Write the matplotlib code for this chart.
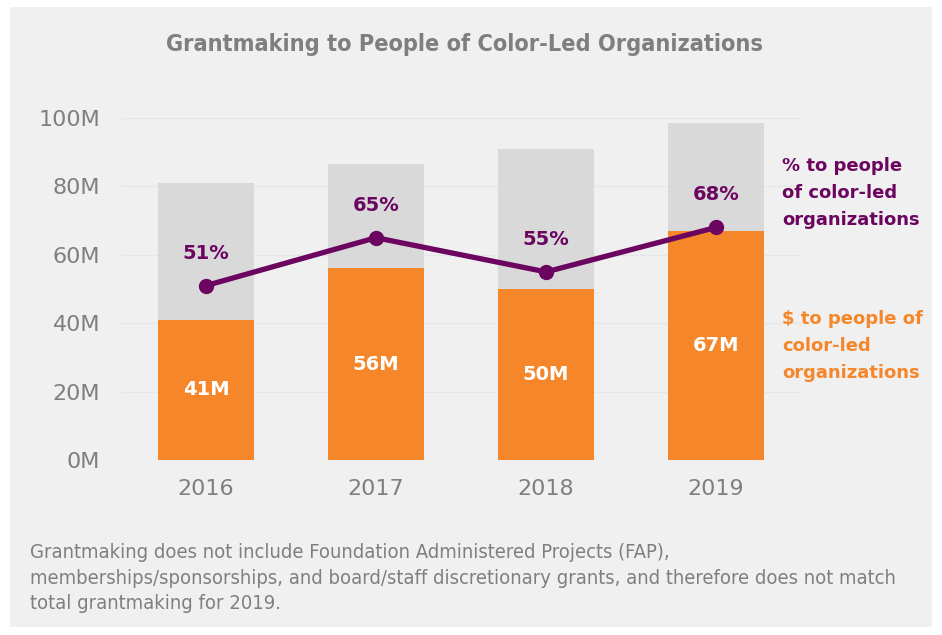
import matplotlib.pyplot as plt
from matplotlib.patches import Rectangle

years = ['2016', '2017', '2018', '2019']
total_m = [81, 86.5, 91, 98.5]
poc_m = [41, 56, 50, 67]
poc_pct = [51, 65, 55, 68]

orange = '#F5872A'
purple = '#6B0560'
bar_grey = '#D9D9D9'
txt_grey = '#7F7F7F'

fig = plt.figure(figsize=(9.42, 6.35), dpi=100)
fig.patch.set_facecolor('white')
fig.patches.append(Rectangle((10 / 942, 8 / 635), 922 / 942, 620 / 635,
                             transform=fig.transFigure, facecolor='#F0F0F0',
                             edgecolor='none', zorder=-10))

ax = fig.add_axes([121 / 942, 175 / 635, 680 / 942, 342 / 635])
ax.set_facecolor('none')

x = range(len(years))
ax.bar(x, total_m, width=0.57, color=bar_grey, zorder=2)
ax.bar(x, poc_m, width=0.57, color=orange, zorder=3)
ax.plot(x, poc_pct, color=purple, lw=3.8, marker='o', ms=10, zorder=4)

for i in x:
    ax.text(i, poc_m[i] / 2, f'{poc_m[i]}M', ha='center', va='center',
            color='white', fontsize=14, fontweight='bold', zorder=5)
    ax.text(i, poc_pct[i] + 9.5, f'{poc_pct[i]}%', ha='center', va='center',
            color=purple, fontsize=14, fontweight='bold', zorder=5)

ax.set_xlim(-0.5, 3.5)
ax.set_ylim(0, 100)
ax.set_yticks([0, 20, 40, 60, 80, 100])
ax.set_yticklabels([f'{v}M' for v in [0, 20, 40, 60, 80, 100]])
ax.set_xticks(list(x))
ax.set_xticklabels(years)
ax.tick_params(axis='both', length=0, labelsize=16, labelcolor=txt_grey)
ax.tick_params(axis='y', pad=15)
ax.tick_params(axis='x', pad=14)
ax.grid(axis='y', color='#E6E6E6', lw=1, zorder=0)
ax.set_axisbelow(True)
for s in ax.spines.values():
    s.set_visible(False)

fig.text(465 / 942, 1 - 44 / 635, 'Grantmaking to People of Color-Led Organizations',
         ha='center', va='center', color=txt_grey, fontsize=16.8, fontweight='bold',
         family='DejaVu Sans', stretch='condensed')

fig.text(782 / 942, 1 - 193 / 635, '% to people\nof color-led\norganizations',
         ha='left', va='center', color=purple, fontsize=13, fontweight='bold',
         linespacing=1.65)
fig.text(782 / 942, 1 - 346 / 635, '$ to people of\ncolor-led\norganizations',
         ha='left', va='center', color=orange, fontsize=13, fontweight='bold',
         linespacing=1.65)

fig.text(30 / 942, 1 - 578 / 635,
         'Grantmaking does not include Foundation Administered Projects (FAP),\n'
         'memberships/sponsorships, and board/staff discretionary grants, and therefore does not match\n'
         'total grantmaking for 2019.',
         ha='left', va='center', color=txt_grey, fontsize=14.5,
         family='DejaVu Sans', stretch='condensed', linespacing=1.42)

fig.savefig('out.png', dpi=100, facecolor=fig.get_facecolor())
